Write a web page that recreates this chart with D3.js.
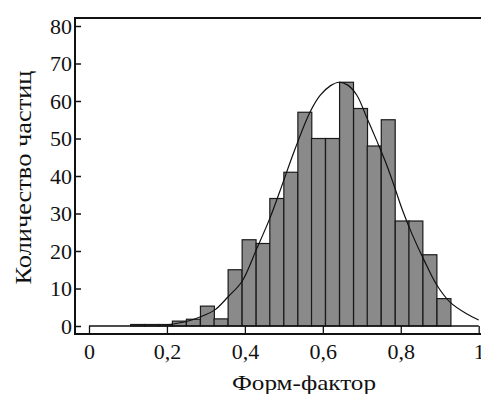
<!DOCTYPE html>
<html>
<head>
<meta charset="utf-8">
<script src="https://cdn.jsdelivr.net/npm/d3@7/dist/d3.min.js"></script>
<style>
  html, body { margin: 0; padding: 0; background: #fff; }
</style>
</head>
<body>
<svg id="chart" width="481" height="394"></svg>
<script>
// Histogram bins: left edge of each bin (form factor), common bin width
const binLeft = [0.107, 0.143, 0.179, 0.214, 0.25, 0.286, 0.321, 0.357, 0.393, 0.429,
                 0.464, 0.5, 0.536, 0.571, 0.607, 0.643, 0.679, 0.714, 0.75, 0.786,
                 0.821, 0.857, 0.893];
const binWidth = 0.0357;
// Number of particles per bin
const counts = [0.4, 0.4, 0.4, 1.3, 1.8, 5.3, 1.9, 15, 23, 22,
                34, 41, 57, 50, 50, 65, 58, 48, 55, 28,
                28, 19, 7.3];

// Fitted distribution curve
const curveX = [0.2, 0.25, 0.285, 0.323, 0.357, 0.392, 0.43, 0.464, 0.49, 0.528,
                0.567, 0.593, 0.62, 0.642, 0.663, 0.687, 0.713, 0.738, 0.76, 0.781,
                0.804, 0.829, 0.86, 0.892, 0.927, 0.97, 1.0];
const curveY = [0.3, 1.2, 2.4, 4.3, 7.8, 11.8, 20.5, 28.7, 36, 47,
                57, 61.5, 64.1, 65, 64.3, 61.6, 55.5, 49.5, 44, 38,
                31, 24.5, 17.5, 11, 6.3, 3.2, 1.6];

// Axis ticks
const xTicks = [0, 0.2, 0.4, 0.6, 0.8, 1];
const xTickLabels = ["0", "0,2", "0,4", "0,6", "0,8", "1"];
const yTicks = [0, 10, 20, 30, 40, 50, 60, 70, 80];

const xTitle = "Форм-фактор";
const yTitle = "Количество частиц";

const FONT = "'Liberation Serif', 'Times New Roman', Times, serif";

const svg = d3.select("#chart");
const W = 481;
const frame = { left: 75, top: 18, bottom: 334 };

const x = d3.scaleLinear().domain([0, 1]).range([89, 478.7]);
const y = d3.scaleLinear().domain([0, 80]).range([326, 26]);

// Bars
svg.append("g").selectAll("rect")
  .data(counts)
  .join("rect")
  .attr("x", (d, i) => x(binLeft[i]))
  .attr("width", (d, i) => x(binLeft[i] + binWidth) - x(binLeft[i]))
  .attr("y", d => y(d))
  .attr("height", d => y(0) - y(d))
  .attr("fill", "#8a8a8a")
  .attr("stroke", "#1a1a1a")
  .attr("stroke-width", 1.2);

// Curve
const pts = curveX.map((v, i) => [v, curveY[i]]);
svg.append("path")
  .datum(pts)
  .attr("d", d3.line().x(d => x(d[0])).y(d => y(d[1])).curve(d3.curveCatmullRom.alpha(0.5)))
  .attr("fill", "none")
  .attr("stroke", "#111")
  .attr("stroke-width", 1.2);

// Zero level line across the x-domain
svg.append("line")
  .attr("x1", x(0)).attr("x2", x(1))
  .attr("y1", y(0)).attr("y2", y(0))
  .attr("stroke", "#111").attr("stroke-width", 1.3);

// X axis with ticks pointing up to the zero level
const xAxis = d3.axisBottom(x)
  .tickValues(xTicks)
  .tickSize(-(frame.bottom - y(0)))
  .tickFormat((d, i) => xTickLabels[i]);
const gx = svg.append("g")
  .attr("transform", `translate(0,${frame.bottom})`)
  .call(xAxis)
  .attr("font-family", FONT);
gx.select(".domain").remove();
gx.selectAll(".tick line").attr("stroke", "#111").attr("stroke-width", 1.3);
gx.selectAll(".tick text")
  .attr("y", 25)
  .attr("dy", 0)
  .attr("fill", "#111")
  .attr("font-size", 22);

// Y axis with inward ticks
const yAxis = d3.axisLeft(y).tickValues(yTicks).tickSize(-6).tickPadding(3);
const gy = svg.append("g")
  .attr("transform", `translate(${frame.left},0)`)
  .call(yAxis)
  .attr("font-family", FONT);
gy.select(".domain").remove();
gy.selectAll(".tick line").attr("stroke", "#111").attr("stroke-width", 1.5);
gy.selectAll(".tick text")
  .attr("font-size", 22)
  .attr("fill", "#111")
  .attr("x", -3)
  .attr("dy", "0.33em");

// Frame lines
svg.append("path")
  .attr("d", `M${W},${frame.top}H${frame.left}V${frame.bottom}H${W}`)
  .attr("fill", "none")
  .attr("stroke", "#111")
  .attr("stroke-width", 2);

// Axis titles
svg.append("text")
  .attr("x", 304).attr("y", 390)
  .attr("text-anchor", "middle")
  .attr("font-family", FONT)
  .attr("font-size", 22)
  .attr("textLength", 144)
  .attr("lengthAdjust", "spacingAndGlyphs")
  .attr("fill", "#111")
  .text(xTitle);

svg.append("text")
  .attr("transform", "translate(31,177.5) rotate(-90)")
  .attr("text-anchor", "middle")
  .attr("font-family", FONT)
  .attr("font-size", 23)
  .attr("textLength", 214)
  .attr("lengthAdjust", "spacingAndGlyphs")
  .attr("fill", "#111")
  .text(yTitle);
</script>
</body>
</html>
